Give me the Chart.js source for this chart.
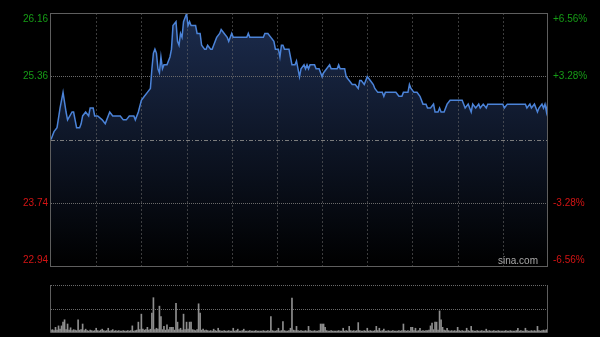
<!DOCTYPE html>
<html lang="zh-CN">
<head>
    <meta charset="UTF-8">
    <title>分时走势</title>
    <script src="https://cdn.jsdelivr.net/npm/chart.js"></script>
    <style>
        html, body { margin: 0; padding: 0; background: #000; }
        .wrap { position: relative; width: 600px; height: 337px; background: #000; }
        .wrap canvas { position: absolute; left: 0; top: 0; }
    </style>
</head>
<body>
<div class="wrap">
    <canvas id="priceChart" width="600" height="337"></canvas>
    <canvas id="volumeChart" width="600" height="337"></canvas>
</div>

<script>
    // --- data (minutes since open, 330 = close) ---
    const prevClose = 24.55;
    const priceTicks = [22.94, 23.74, 24.55, 25.36, 26.16];
    const pctLabels = ['-6.56%', '-3.28%', '', '+3.28%', '+6.56%'];
    const timeGrid = [30, 60, 90, 120, 150, 180, 210, 240, 270, 300];

    const minutes = [
        0, 2, 4, 6, 8, 10, 11, 14, 15, 17, 19, 20, 21, 23, 25, 26, 28, 29, 31, 34,
        36, 37, 39, 41, 46, 48, 50, 52, 55, 56, 58, 60, 62, 64, 66, 67, 68, 69, 70, 71,
        72, 73, 74, 75, 77, 79, 80, 81, 83, 84, 85, 86, 87, 88, 90, 91, 92, 93, 96, 97,
        99, 100, 102, 103, 104, 106, 107, 108, 110, 112, 113, 115, 117, 118, 120, 121, 130, 131, 132, 141,
        142, 144, 146, 148, 149, 151, 152, 153, 154, 155, 158, 159, 160, 162, 163, 164, 165, 166, 168, 169,
        170, 171, 172, 175, 176, 178, 180, 181, 183, 185, 186, 190, 191, 192, 195, 196, 198, 200, 202, 204,
        205, 206, 208, 210, 212, 214, 215, 217, 220, 221, 222, 229, 231, 233, 234, 237, 238, 239, 241, 243,
        245, 247, 249, 250, 252, 254, 255, 257, 258, 259, 261, 263, 265, 273, 275, 277, 279, 280, 282, 284,
        285, 287, 289, 290, 300, 301, 303, 315, 316, 318, 319, 321, 323, 324, 326, 327, 328, 329, 330
    ];
    const prices = [
        24.55, 24.65, 24.70, 24.95, 25.15, 24.90, 24.80, 24.90, 24.90, 24.70, 24.70, 24.75, 24.85, 24.90, 24.85, 24.95, 24.95, 24.85, 24.85, 24.80,
        24.75, 24.80, 24.90, 24.85, 24.85, 24.80, 24.80, 24.85, 24.85, 24.80, 24.90, 25.05, 25.10, 25.15, 25.20, 25.45, 25.65, 25.70, 25.65, 25.45,
        25.40, 25.60, 25.45, 25.50, 25.50, 25.60, 25.70, 26.00, 26.05, 25.80, 25.75, 25.90, 25.85, 26.05, 26.15, 26.00, 26.05, 26.00, 26.00, 25.90,
        25.90, 25.75, 25.70, 25.70, 25.75, 25.70, 25.70, 25.75, 25.85, 25.90, 25.95, 25.90, 25.85, 25.80, 25.90, 25.85, 25.85, 25.90, 25.85, 25.85,
        25.90, 25.90, 25.85, 25.80, 25.70, 25.70, 25.60, 25.75, 25.75, 25.70, 25.70, 25.60, 25.50, 25.50, 25.55, 25.45, 25.35, 25.45, 25.50, 25.45,
        25.50, 25.45, 25.50, 25.50, 25.45, 25.45, 25.35, 25.40, 25.45, 25.50, 25.45, 25.45, 25.50, 25.45, 25.45, 25.35, 25.30, 25.25, 25.25, 25.20,
        25.30, 25.30, 25.25, 25.35, 25.30, 25.25, 25.20, 25.15, 25.15, 25.10, 25.15, 25.15, 25.10, 25.10, 25.15, 25.15, 25.25, 25.20, 25.15, 25.15,
        25.10, 25.00, 25.00, 24.95, 24.95, 25.00, 24.90, 24.90, 24.95, 24.90, 24.90, 25.00, 25.05, 25.05, 24.95, 25.00, 24.90, 25.00, 24.95, 25.00,
        24.95, 25.00, 24.95, 25.00, 25.00, 24.95, 25.00, 25.00, 24.95, 25.00, 24.95, 25.00, 24.90, 24.95, 25.00, 24.95, 25.00, 24.90, 25.05
    ];

    // volume per minute, 0..330 (relative units, panel top = 100)
    const volumes = [
        4, 5, 3, 10, 4, 13, 6, 13, 21, 26,
        5, 17, 4, 9, 3, 5, 4, 3, 26, 4,
        5, 17, 3, 6, 3, 2, 4, 3, 2, 3,
        8, 3, 2, 4, 6, 3, 2, 3, 8, 2,
        3, 5, 2, 3, 2, 3, 2, 2, 3, 2,
        2, 3, 2, 3, 13, 2, 3, 4, 21, 5,
        38, 6, 4, 5, 10, 4, 6, 40, 73, 5,
        8, 6, 55, 33, 5, 12, 4, 15, 5, 10,
        10, 10, 4, 61, 21, 5, 8, 4, 38, 5,
        21, 6, 21, 21, 5, 4, 3, 5, 60, 40,
        4, 6, 3, 4, 3, 2, 3, 2, 6, 3,
        2, 8, 3, 2, 2, 3, 2, 2, 3, 2,
        2, 8, 2, 3, 6, 2, 2, 3, 6, 2,
        2, 2, 3, 2, 2, 2, 3, 2, 2, 2,
        2, 3, 2, 2, 3, 2, 33, 3, 2, 2,
        3, 8, 2, 3, 22, 3, 2, 2, 3, 8,
        72, 4, 3, 12, 3, 2, 3, 2, 2, 3,
        2, 12, 3, 2, 2, 3, 2, 2, 3, 17,
        17, 17, 10, 3, 2, 2, 3, 2, 2, 2,
        2, 3, 2, 2, 8, 2, 3, 2, 12, 3,
        2, 3, 2, 3, 20, 3, 2, 2, 3, 2,
        8, 2, 3, 2, 2, 3, 12, 3, 8, 2,
        3, 6, 2, 2, 3, 2, 2, 3, 2, 2,
        2, 3, 2, 3, 17, 3, 2, 3, 2, 10,
        10, 3, 8, 2, 3, 8, 2, 3, 2, 3,
        3, 4, 13, 19, 5, 21, 21, 4, 45, 26,
        10, 4, 3, 8, 3, 2, 3, 2, 3, 2,
        10, 3, 2, 3, 2, 2, 8, 3, 2, 12,
        3, 2, 2, 3, 2, 2, 3, 2, 2, 6,
        2, 3, 2, 2, 3, 2, 2, 3, 2, 2,
        2, 2, 3, 2, 2, 3, 2, 2, 2, 3,
        8, 2, 3, 2, 2, 8, 3, 2, 2, 3,
        2, 3, 2, 12, 3, 2, 3, 4, 3, 5,
        21
    ];

    const FONT = '10px "Liberation Sans", Arial, sans-serif';

    function hLine(ctx, area, y, dash, color) {
        ctx.save();
        ctx.strokeStyle = color;
        ctx.lineWidth = 1;
        ctx.setLineDash(dash);
        ctx.beginPath();
        ctx.moveTo(area.left, Math.round(y) + 0.5);
        ctx.lineTo(area.right, Math.round(y) + 0.5);
        ctx.stroke();
        ctx.restore();
    }

    // grid lines under the price line, over the fill
    const priceGrid = {
        id: 'priceGrid',
        beforeDatasetsDraw(chart) {
            const { ctx, chartArea: a, scales: { x, y } } = chart;
            ctx.save();
            ctx.strokeStyle = 'rgba(110,110,110,0.55)';
            ctx.lineWidth = 1;
            ctx.setLineDash([2, 2]);
            timeGrid.forEach(t => {
                const px = Math.round(x.getPixelForValue(t)) + 0.5;
                ctx.beginPath();
                ctx.moveTo(px, a.top);
                ctx.lineTo(px, a.bottom);
                ctx.stroke();
            });
            ctx.restore();
            hLine(ctx, a, y.getPixelForValue(priceTicks[1]), [1, 1], '#6a6a6a');
            hLine(ctx, a, y.getPixelForValue(priceTicks[3]), [1, 1], '#6a6a6a');
            hLine(ctx, a, y.getPixelForValue(prevClose), [4, 2, 1, 2], '#7c7c7c');
        },
        afterDraw(chart) {
            const { ctx, chartArea: a, scales: { y } } = chart;
            ctx.save();
            ctx.strokeStyle = '#5e5e5e';
            ctx.lineWidth = 1;
            ctx.strokeRect(a.left - 0.5, a.top + 0.5, a.right - a.left, a.bottom - a.top);

            ctx.font = FONT;
            ctx.textBaseline = 'middle';
            priceTicks.forEach((v, i) => {
                if (i === 2) return;
                let py = y.getPixelForValue(v);
                py = Math.min(Math.max(py, a.top + 6), a.bottom - 6);
                const col = v > prevClose ? '#169c16' : '#d41414';
                ctx.fillStyle = col;
                ctx.textAlign = 'right';
                ctx.fillText(v.toFixed(2), a.left - 3, py);
                ctx.textAlign = 'left';
                ctx.fillText(pctLabels[i], a.right + 5, py);
            });

            ctx.fillStyle = '#a8a8a8';
            ctx.textAlign = 'right';
            ctx.fillText('sina.com', a.right - 10, a.bottom - 5);
            ctx.restore();
        }
    };

    new Chart(document.getElementById('priceChart'), {
        type: 'line',
        data: {
            datasets: [{
                data: minutes.map((m, i) => ({ x: m, y: prices[i] })),
                borderColor: '#4b83d8',
                borderWidth: 1.5,
                pointRadius: 0,
                tension: 0,
                fill: 'start',
                backgroundColor: (c) => {
                    const { ctx, chartArea } = c.chart;
                    if (!chartArea) return 'rgba(20,32,56,1)';
                    const g = ctx.createLinearGradient(0, chartArea.top, 0, chartArea.bottom);
                    g.addColorStop(0, 'rgb(28,44,78)');
                    g.addColorStop(1, 'rgb(0,0,0)');
                    return g;
                }
            }]
        },
        options: {
            responsive: false,
            animation: false,
            devicePixelRatio: 1,
            layout: { padding: { left: 51, right: 52, top: 13, bottom: 71 } },
            plugins: {
                legend: { display: false },
                tooltip: { enabled: false },
                filler: { drawTime: 'beforeDatasetsDraw' }
            },
            scales: {
                x: { type: 'linear', min: 0, max: 330, display: false },
                y: { min: priceTicks[0], max: priceTicks[4], display: false }
            }
        },
        plugins: [priceGrid]
    });

    // volume panel
    const volumeFrame = {
        id: 'volumeFrame',
        beforeDatasetsDraw(chart) {
            const { ctx, chartArea: a, scales: { y } } = chart;
            hLine(ctx, a, a.top, [1, 1], '#6a6a6a');
            hLine(ctx, a, y.getPixelForValue(50), [1, 1], '#6a6a6a');
        },
        afterDraw(chart) {
            const { ctx, chartArea: a } = chart;
            ctx.save();
            ctx.strokeStyle = '#5e5e5e';
            ctx.lineWidth = 1;
            ctx.beginPath();
            ctx.moveTo(a.left - 0.5, a.top);
            ctx.lineTo(a.left - 0.5, a.bottom + 0.5);
            ctx.lineTo(a.right - 0.5, a.bottom + 0.5);
            ctx.lineTo(a.right - 0.5, a.top);
            ctx.stroke();
            ctx.restore();
        }
    };

    new Chart(document.getElementById('volumeChart'), {
        type: 'bar',
        data: {
            labels: volumes.map((v, i) => i),
            datasets: [{
                data: volumes,
                backgroundColor: '#8e8e8e',
                barThickness: 1
            }]
        },
        options: {
            responsive: false,
            animation: false,
            devicePixelRatio: 1,
            layout: { padding: { left: 51, right: 52, top: 285, bottom: 5 } },
            plugins: { legend: { display: false }, tooltip: { enabled: false } },
            scales: {
                x: { display: false, offset: false },
                y: { min: 0, max: 100, display: false }
            }
        },
        plugins: [volumeFrame]
    });
</script>
</body>
</html>
